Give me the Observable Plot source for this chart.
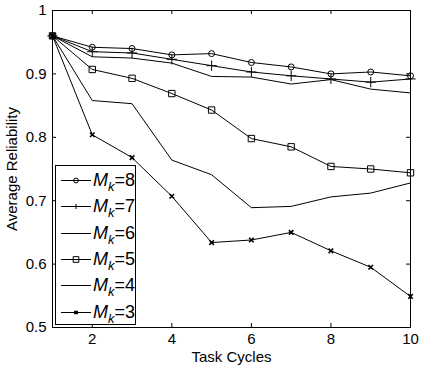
<!DOCTYPE html>
<html><head><meta charset="utf-8">
<script src="https://cdn.jsdelivr.net/npm/d3@7"></script>
<script src="https://cdn.jsdelivr.net/npm/@observablehq/plot@0.6"></script>
<style>
body{margin:0;background:#fff;}
#wrap{position:relative;width:428px;height:368px;font-family:"Liberation Sans",Arial,sans-serif;}
#legend{position:absolute;left:55px;top:165px;width:81px;height:160px;border:1px solid #000;background:#fff;box-sizing:border-box;}
.row{position:absolute;left:0;height:26px;display:flex;align-items:center;}
.row svg{display:block;}
.lab{font-size:18px;line-height:26px;color:#000;margin-left:0px;white-space:nowrap;}
.lab sub{font-size:0.72em;vertical-align:-0.35em;line-height:0;}
</style></head>
<body><div id="wrap"></div>
<script>
const cycles = [1,2,3,4,5,6,7,8,9,10];
const m8 = [0.960,0.942,0.940,0.930,0.932,0.918,0.911,0.900,0.903,0.897];
const m7 = [0.960,0.935,0.933,0.923,0.913,0.903,0.897,0.892,0.887,0.892];
const m6 = [0.960,0.927,0.925,0.917,0.896,0.895,0.884,0.891,0.876,0.870];
const m5 = [0.960,0.907,0.893,0.869,0.843,0.798,0.785,0.754,0.750,0.744];
const m4 = [0.960,0.858,0.853,0.764,0.741,0.689,0.691,0.706,0.712,0.728];
const m3 = [0.960,0.804,0.768,0.707,0.634,0.638,0.650,0.621,0.595,0.549];
const seriesK = ["8","7","6","5","4","3"];
const seriesVals = [m8, m7, m6, m5, m4, m3];
const seriesSymbol = ["circle","plus",null,"square",null,"times"];
const xTicks = [2,4,6,8,10];
const yTicks = [0.5,0.6,0.7,0.8,0.9,1];
const xLabel = "Task Cycles";
const yLabel = "Average Reliability";

const W = 428, H = 368, mL = 52, mR = 18, mT = 10, mB = 41;
const iw = W - mL - mR, ih = H - mT - mB;

const rows = [];
seriesK.forEach((k, i) => cycles.forEach((c, j) => rows.push({k, x: c, y: seriesVals[i][j]})));

const symR = {circle: 3, plus: 3.4, square: 3.6, times: 2.2};
const dotMarks = seriesK.map((k, i) => seriesSymbol[i] ? Plot.dot(rows.filter(d => d.k === k), {
  x: "x", y: "y", symbol: seriesSymbol[i], r: symR[seriesSymbol[i]], stroke: "black", fill: "none",
  strokeWidth: seriesSymbol[i] === "times" ? 1.6 : 1
}) : null).filter(Boolean);

const chart = Plot.plot({
  width: W, height: H, marginLeft: mL, marginRight: mR, marginTop: mT, marginBottom: mB,
  style: {fontFamily: '"Liberation Sans", Arial, sans-serif', fontSize: "15px", color: "black", background: "white"},
  x: {domain: [1, 10]},
  y: {domain: [0.5, 1]},
  marks: [
    Plot.axisX({ticks: xTicks, tickSize: 0, tickPadding: 6, tickFormat: d => String(d), fontSize: 15,
      label: xLabel, labelAnchor: "center", labelOffset: 34, labelArrow: "none"}),
    Plot.axisY({ticks: yTicks, tickSize: 0, tickPadding: 6, tickFormat: d => d === 1 ? "1" : d3.format(".1f")(d), fontSize: 15,
      label: yLabel, labelAnchor: "center", labelOffset: 46, labelArrow: "none"}),
    Plot.tickX(xTicks, {x: d => d, insetTop: ih - 4, stroke: "black"}),
    Plot.tickX(xTicks, {x: d => d, insetBottom: ih - 4, stroke: "black"}),
    Plot.tickY(yTicks, {y: d => d, insetRight: iw - 4, stroke: "black"}),
    Plot.tickY(yTicks, {y: d => d, insetLeft: iw - 4, stroke: "black"}),
    Plot.line(rows, {x: "x", y: "y", z: "k", stroke: "black", strokeWidth: 1}),
    ...dotMarks,
    Plot.frame({stroke: "black", strokeWidth: 1})
  ]
});
const wrap = document.getElementById("wrap");
wrap.appendChild(chart);

// legend
const legend = document.createElement("div");
legend.id = "legend";
wrap.appendChild(legend);
const symMap = {circle: d3.symbolCircle, plus: d3.symbolPlus, square: d3.symbolSquare, times: d3.symbolTimes};
const legR = {circle: 2.4, plus: 1.8, square: 3.2, times: 1.6};
seriesK.forEach((k, i) => {
  const row = document.createElement("div");
  row.className = "row";
  row.style.top = (1 + i * 26.3) + "px";
  const svg = d3.create("svg").attr("width", 37).attr("height", 26);
  svg.append("line").attr("x1", 5).attr("x2", 35).attr("y1", 13.5).attr("y2", 13.5).attr("stroke", "black");
  const s = seriesSymbol[i];
  if (s) {
    svg.append("path").attr("transform", "translate(20,13.5)")
      .attr("d", d3.symbol(symMap[s], Math.PI * legR[s] * legR[s])())
      .attr("fill", "none").attr("stroke", "black").attr("stroke-width", s === "times" ? 1.6 : 1);
  }
  row.appendChild(svg.node());
  const lab = document.createElement("span");
  lab.className = "lab";
  lab.innerHTML = "<i>M</i><sub><i>k</i></sub>=" + k;
  row.appendChild(lab);
  legend.appendChild(row);
});
</script></body></html>
